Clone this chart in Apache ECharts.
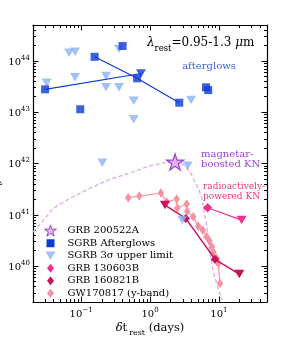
<!DOCTYPE html>
<html><head><meta charset="utf-8">
<script src="https://cdn.jsdelivr.net/npm/echarts@6/dist/echarts.min.js"></script>
<style>html,body{margin:0;padding:0;background:#fff}#c{width:296px;height:347px}</style>
</head><body><div id="c"></div>
<script>
// ---------- data (time in rest-frame days, luminosity in erg/s) ----------
const xMin = 0.02, xMax = 50, yMin = 2e39, yMax = 5e44;
const xMajorExps = [-1, 0, 1];
const yMajorExps = [40, 41, 42, 43, 44];

const sgrbSqT = [0.030, 0.097, 0.157, 0.40, 0.65, 2.66, 6.5, 7.0];
const sgrbSqL = [2.79e43, 1.14e43, 1.20e44, 1.95e44, 4.57e43, 1.53e43, 3.05e43, 2.70e43];
const sgrbDarkUlT = [0.74];
const sgrbDarkUlL = [5.67e43];
const lineAT = [0.030, 0.74];
const lineAL = [2.79e43, 5.67e43];
const lineBT = [0.157, 0.65, 2.66];
const lineBL = [1.20e44, 4.57e43, 1.53e43];

const ulT = [0.0316, 0.0667, 0.0815, 0.0815, 0.23, 0.23, 0.355, 0.355, 0.58, 0.58, 3.94, 0.203, 3.52, 2.94];
const ulL = [3.75e43, 1.44e44, 1.51e44, 4.78e43, 5.07e43, 3.05e43, 3.05e43, 1.70e44, 1.67e43, 7.26e42, 1.73e43, 1.04e42, 9.0e41, 7.9e40];

const grb200522T = [2.31];
const grb200522L = [1.07e42];

const grb130603T = [6.87, 21.4];
const grb130603L = [1.37e41, 7.9e40];
const grb130603Kind = ['det', 'ul'];

const grb160821T = [1.65, 3.3, 8.78, 19.8];
const grb160821L = [1.55e41, 8.5e40, 1.36e40, 7.0e39];
const grb160821Kind = ['ul', 'det', 'det', 'ul'];

const gwT = [0.484, 0.70, 1.44, 1.75, 2.44, 2.49, 3.41, 3.47, 4.25, 5.02, 5.82, 6.65, 7.3, 7.94, 8.3, 9.3, 9.8, 10.4];
const gwL = [2.15e41, 2.32e41, 2.66e41, 1.77e41, 2.03e41, 1.36e41, 1.62e41, 1.18e41, 9.2e40, 6.0e40, 5.05e40, 3.73e40, 3.08e40, 2.35e40, 1.88e40, 1.42e40, 1.13e40, 4.6e39];

const magT = [0.02, 0.0227, 0.0395, 0.069, 0.135, 0.263, 0.567, 1.0, 1.65, 2.31, 3.0, 3.81, 4.76, 5.63, 5.94, 6.65, 7.25, 8.2, 9.7, 11.1];
const magL = [4.6e40, 5.5e40, 1.34e41, 2.1e41, 3.3e41, 4.9e41, 6.9e41, 9.0e41, 1.04e42, 1.07e42, 9.8e41, 6.9e41, 3.8e41, 2.25e41, 1.34e41, 6.3e40, 2.06e40, 8.4e39, 3.7e39, 2.2e39];

const legendNames = ['GRB 200522A', 'SGRB Afterglows', 'SGRB 3\u03c3 upper limit', 'GRB 130603B', 'GRB 160821B', 'GW170817 (y-band)'];

// ---------- styling ----------
const FONT = 'DejaVu Serif';
const C = {
  sq: '#0d3ad6', ul: '#8cb0f5', starFill: '#dba4f3', starEdge: '#8c1fc6',
  mag: '#dba8f4', b130: '#e9358c', b160: '#c8135c', gw: '#f7939f'
};
const lg = Math.log10;
const pts = (ts, ls) => ts.map((t, i) => [lg(t), lg(ls[i])]);
const DOWN = 'path://M0,0L2,0L1,2Z';
const STAR = 'path://M0,-100L22.45,-30.9L95.1,-30.9L36.3,11.8L58.8,80.9L0,38.2L-58.8,80.9L-36.3,11.8L-95.1,-30.9L-22.45,-30.9Z';

function minors(lo, hi) {
  const r = [];
  for (let k = Math.floor(lg(lo)); k <= Math.ceil(lg(hi)); k++)
    for (let m = 2; m <= 9; m++) { const v = m * Math.pow(10, k); if (v >= lo * 0.9999 && v <= hi * 1.0001) r.push(lg(v)); }
  return r;
}
const tickRich = {
  b: { fontSize: 10, fontFamily: FONT, color: '#000', padding: [2.8, 0, 0, 0] },
  s: { fontSize: 7, fontFamily: FONT, color: '#000', padding: [0, 0, 5.8, 0] }
};
const fmt = v => '{b|10}{s|' + String(Math.round(v)).replace('-', '\u2212') + '}';

function axis(dim, position, major, withLabel, withLine, extra) {
  const lo = dim === 'x' ? xMin : yMin, hi = dim === 'x' ? xMax : yMax;
  const vals = major ? (dim === 'x' ? xMajorExps : yMajorExps) : minors(lo, hi);
  return Object.assign({
    type: 'value', position, min: lg(lo), max: lg(hi),
    splitLine: { show: false },
    axisLine: { show: withLine, onZero: false, lineStyle: { color: '#000', width: 1.2 } },
    axisTick: { show: true, inside: true, length: major ? 5.5 : 3, customValues: vals, lineStyle: { color: '#000', width: 1 } },
    axisLabel: withLabel ? { show: true, customValues: vals, margin: dim === 'x' ? 5 : 3, formatter: fmt, rich: tickRich } : { show: false }
  }, extra || {});
}

const legendIcon = {
  star: 'path://M0,0L0,0M14,12L14,12M7,0.4L8.39,4.68L12.9,4.68L9.25,7.33L10.65,11.62L7,8.97L3.35,11.62L4.75,7.33L1.1,4.68L5.61,4.68Z',
  sq: 'path://M0,0L0,0M14,12L14,12M3,2L11,2L11,10L3,10Z',
  tri: 'path://M0,0L0,0M14,12L14,12M2,1.75L12,1.75L7,10.25Z',
  dia: 'path://M0,0L0,0M14,12L14,12M7,1.5L10.5,6L7,10.5L3.5,6Z'
};

function kindItems(ts, ls, kinds, detSize) {
  return ts.map((t, i) => kinds[i] === 'ul'
    ? { value: [lg(t), lg(ls[i])], symbol: DOWN, symbolSize: [10, 8.5] }
    : { value: [lg(t), lg(ls[i])], symbol: 'diamond', symbolSize: detSize });
}

const option = {
  animation: false,
  backgroundColor: '#fff',
  grid: { left: 33, right: 29, top: 25, bottom: 45, containLabel: false, outerBoundsMode: 'none' },
  xAxis: [
    axis('x', 'bottom', true, true, true, {
      name: '{d|\u03b4}{m|t}{r|rest}{m| (days)}', nameLocation: 'middle', nameGap: 20, nameMoveOverlap: false,
      nameTextStyle: { rich: {
        d: { fontSize: 11.5, fontFamily: FONT, fontStyle: 'italic', color: '#000', padding: [0, 0, 4, 0] },
        m: { fontSize: 11.5, fontFamily: FONT, color: '#000', padding: [0, 0, 4, 0] },
        r: { fontSize: 8, fontFamily: FONT, color: '#000', padding: [7, 0, 0.5, 2] } } }
    }),
    axis('x', 'bottom', false, false, false),
    axis('x', 'top', true, false, true),
    axis('x', 'top', false, false, false)
  ],
  yAxis: [
    axis('y', 'left', true, true, true, {
      name: '{d|\u03bd}{m|L}{r|\u03bd}{m| (erg s}{p|\u22121}{m|)}', nameLocation: 'middle', nameGap: 28, nameRotate: 90, nameMoveOverlap: false,
      nameTextStyle: { rich: {
        d: { fontSize: 11.5, fontFamily: FONT, fontStyle: 'italic', color: '#000', padding: [0, 0, 4, 0] },
        m: { fontSize: 11.5, fontFamily: FONT, color: '#000', padding: [0, 0, 4, 0] },
        r: { fontSize: 8, fontFamily: FONT, fontStyle: 'italic', color: '#000', padding: [7, 0, 0.5, 0] },
        p: { fontSize: 8, fontFamily: FONT, color: '#000', padding: [0, 0, 7.5, 0] } } }
    }),
    axis('y', 'left', false, false, false),
    axis('y', 'right', true, false, true),
    axis('y', 'right', false, false, false)
  ],
  legend: {
    orient: 'vertical', left: 38, top: 219, itemWidth: 14, itemHeight: 12, itemGap: 0,
    selectedMode: false,
    textStyle: { fontFamily: FONT, fontSize: 10, color: '#000', lineHeight: 12.5, padding: [0, 0, 0, 5] },
    data: [
      { name: legendNames[0], icon: legendIcon.star, itemStyle: { color: C.starFill, borderColor: C.starEdge, borderWidth: 1 } },
      { name: legendNames[1], icon: legendIcon.sq, itemStyle: { color: C.sq, borderWidth: 0 } },
      { name: legendNames[2], icon: legendIcon.tri, itemStyle: { color: C.ul, borderWidth: 0 } },
      { name: legendNames[3], icon: legendIcon.dia, itemStyle: { color: C.b130, borderWidth: 0 } },
      { name: legendNames[4], icon: legendIcon.dia, itemStyle: { color: C.b160, borderWidth: 0 } },
      { name: legendNames[5], icon: legendIcon.dia, itemStyle: { color: C.gw, borderWidth: 0 } }
    ]
  },
  graphic: [
    { type: 'text', x: 147, y: 36.3, style: {
      text: '{l|\u03bb}{sub|rest}{n|=0.95-1.3 }{mu|\u03bc}{n|m}', verticalAlign: 'top', align: 'left',
      rich: {
        l: { fontSize: 12, fontFamily: FONT, fontStyle: 'italic', fill: '#000', padding: [0, 0, 4.75, 0] },
        n: { fontSize: 12, fontFamily: FONT, fill: '#000', padding: [0, 0, 4.75, 0] },
        mu: { fontSize: 12, fontFamily: FONT, fontStyle: 'italic', fill: '#000', padding: [0, 0, 4.75, 0] },
        sub: { fontSize: 8.5, fontFamily: FONT, fill: '#000', padding: [8.25, 0, 0, 0] }
      } } },
    { type: 'text', x: 209, y: 66.7, style: { text: 'afterglows', fontFamily: FONT, fontSize: 10, fill: '#3d63dd', align: 'center', verticalAlign: 'middle' } },
    { type: 'text', x: 201, y: 149, style: { text: 'magnetar-\nboosted KN', fontFamily: FONT, fontSize: 10, lineHeight: 10.5, fill: '#a23fd9', align: 'left', verticalAlign: 'top' } },
    { type: 'text', x: 203, y: 182, style: { text: 'radioactively-\npowered KN', fontFamily: FONT, fontSize: 9, lineHeight: 9.5, fill: '#e5387a', align: 'left', verticalAlign: 'top' } }
  ],
  series: [
    { type: 'line', name: 'magnetar', data: pts(magT, magL), showSymbol: false, symbol: 'none', silent: true,
      lineStyle: { color: C.mag, width: 1.3, type: [4, 2.5] }, z: 1 },
    { type: 'line', name: legendNames[5], data: pts(gwT, gwL), symbol: 'diamond', symbolSize: [6.5, 9.5], showSymbol: true,
      itemStyle: { color: C.gw }, lineStyle: { color: C.gw, width: 1.2 }, z: 2 },
    { type: 'line', name: legendNames[3], data: kindItems(grb130603T, grb130603L, grb130603Kind, [9.5, 9.5]), showSymbol: true,
      itemStyle: { color: C.b130 }, lineStyle: { color: C.b130, width: 1.2 }, z: 3 },
    { type: 'line', name: legendNames[4], data: kindItems(grb160821T, grb160821L, grb160821Kind, [8.5, 9]), showSymbol: true,
      itemStyle: { color: C.b160 }, lineStyle: { color: C.b160, width: 1.4 }, z: 3 },
    { type: 'scatter', name: legendNames[2], data: pts(ulT, ulL), symbol: DOWN, symbolSize: [10, 8.5],
      itemStyle: { color: C.ul }, z: 4 },
    { type: 'line', name: legendNames[1], data: pts(lineAT, lineAL), symbol: 'none', showSymbol: false,
      lineStyle: { color: C.sq, width: 1.2 }, itemStyle: { color: C.sq }, z: 5 },
    { type: 'line', name: legendNames[1], data: pts(lineBT, lineBL), symbol: 'none', showSymbol: false,
      lineStyle: { color: C.sq, width: 1.2 }, itemStyle: { color: C.sq }, z: 5 },
    { type: 'scatter', name: legendNames[1], data: pts(sgrbSqT, sgrbSqL), symbol: 'rect', symbolSize: [8, 8],
      itemStyle: { color: C.sq }, z: 6 },
    { type: 'scatter', name: legendNames[1], data: pts(sgrbDarkUlT, sgrbDarkUlL), symbol: DOWN, symbolSize: [10, 8.5],
      itemStyle: { color: C.sq }, z: 6 },
    { type: 'scatter', name: legendNames[0], data: pts(grb200522T, grb200522L), symbol: STAR, symbolSize: 17, symbolKeepAspect: true,
      itemStyle: { color: C.starFill, borderColor: C.starEdge, borderWidth: 1.3 }, z: 7 }
  ]
};
const chart = echarts.init(document.getElementById('c'), null, { renderer: 'canvas' });
chart.setOption(option);
</script>
</body></html>
